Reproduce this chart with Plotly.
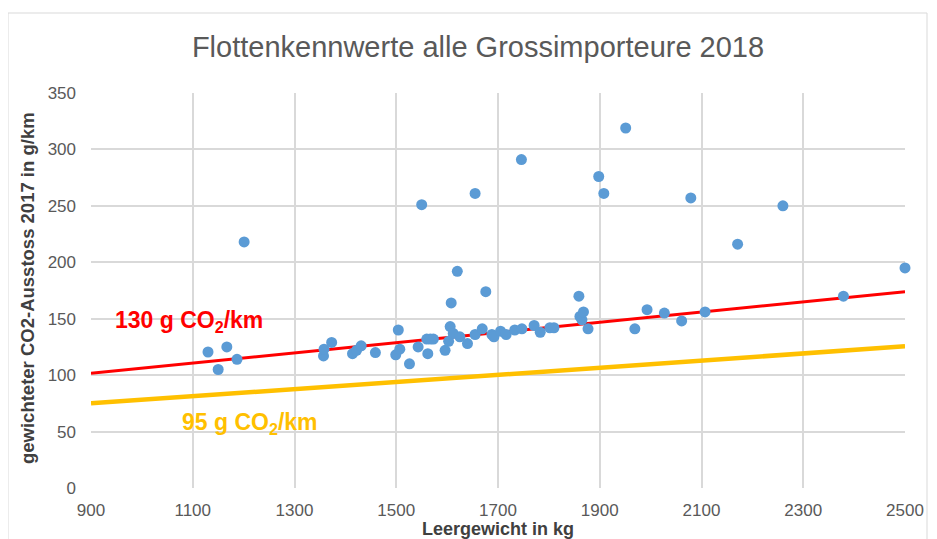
import plotly.graph_objects as go

# Scatter data: Leergewicht (kg) vs gewichteter CO2-Ausstoss (g/km)
weight_kg = [1130, 1150, 1167, 1187, 1201, 1357, 1358, 1373, 1414, 1422, 1431, 1459,
             1499, 1504, 1507, 1526, 1543, 1550, 1560, 1562, 1567, 1573, 1596, 1603,
             1606, 1608, 1612, 1620, 1625, 1640, 1655, 1655, 1669, 1676, 1688, 1692,
             1705, 1716, 1733, 1746, 1747, 1771, 1783, 1802, 1810, 1859, 1861, 1865,
             1868, 1877, 1898, 1908, 1951, 1969, 1993, 2027, 2061, 2079, 2107, 2171,
             2260, 2379, 2500]
co2_gkm = [120.5, 105, 125, 114, 218, 117, 123, 129, 119, 122, 126, 120,
           118, 140, 123, 110, 125, 251, 132, 119, 132, 132, 122, 130,
           143, 164, 137, 192, 134, 128, 261, 136, 141, 174, 136, 134,
           139, 136, 140, 291, 141, 144, 138, 142, 142, 170, 152, 149,
           156, 141, 276, 261, 319, 141, 158, 155, 148, 257, 156, 216,
           250, 170, 195]

# Target lines (endpoints)
line_x = [900, 2500]
target130_y = [101.6, 174.0]
target95_y = [75.0, 125.5]

x_ticks = [900, 1100, 1300, 1500, 1700, 1900, 2100, 2300, 2500]
y_ticks = [0, 50, 100, 150, 200, 250, 300, 350]

OFF = 8  # page body margin
W, H = 937 - OFF, 539 - OFF
L, T = 91 - OFF, 93 - OFF
pw, ph = 814, 395
R, B = W - L - pw, H - T - ph

def px_x(p):  # page px -> paper x
    return (p - OFF - L) / pw

def px_y(p):  # page px -> paper y
    return (T + ph - (p - OFF)) / ph

fig = go.Figure()
fig.add_trace(go.Scatter(x=line_x, y=target95_y, mode="lines",
                         line=dict(color="#FFC000", width=4.5), hoverinfo="skip",
                         showlegend=False))
fig.add_trace(go.Scatter(x=line_x, y=target130_y, mode="lines",
                         line=dict(color="#FF0000", width=3), hoverinfo="skip",
                         showlegend=False))
fig.add_trace(go.Scatter(x=weight_kg, y=co2_gkm, mode="markers",
                         marker=dict(color="#5B9BD5", size=11, line=dict(width=0)),
                         cliponaxis=False, showlegend=False))

narrow = "Liberation Sans Narrow, Arial Narrow, Arial, sans-serif"
bold_font = "Liberation Sans, Arial, sans-serif"

fig.update_layout(
    width=W, height=H,
    margin=dict(l=L, r=R, t=T, b=B, autoexpand=False),
    paper_bgcolor="white", plot_bgcolor="white",
    title=dict(text="Flottenkennwerte alle Grossimporteure 2018",
               x=(478 - OFF) / W, xanchor="center", y=1 - (47 - OFF) / H, yanchor="middle",
               yref="container", xref="container",
               font=dict(family=narrow, size=29, color="#595959")),
    xaxis=dict(range=[900, 2500], tickvals=x_ticks, ticktext=[str(v) for v in x_ticks],
               showgrid=True, gridcolor="#D9D9D9", gridwidth=1.5, zeroline=False,
               showline=False, ticks="", ticklabelstandoff=10, automargin=False,
               tickfont=dict(family=narrow, size=17, color="#595959")),
    yaxis=dict(range=[0, 350], tickvals=y_ticks, ticktext=[str(v) for v in y_ticks],
               showgrid=True, gridcolor="#D9D9D9", gridwidth=1.5, zeroline=False,
               showline=False, ticks="", ticklabelstandoff=14, automargin=False,
               tickfont=dict(family=narrow, size=17, color="#595959")),
    font=dict(family=narrow),
)

annotations = [
    dict(text="<b>Leergewicht in kg</b>", xref="paper", yref="paper",
         x=px_x(498), y=px_y(529), xanchor="center", yanchor="middle", showarrow=False,
         font=dict(family=narrow, size=18, color="#404040")),
    dict(text="<b>gewichteter CO2-Ausstoss 2017 in g/km</b>", xref="paper", yref="paper",
         x=px_x(27), y=px_y(288), xanchor="center", yanchor="middle", showarrow=False,
         textangle=-90, font=dict(family=bold_font, size=18.5, color="#404040")),
    dict(text="<b>130 g CO<sub>2</sub>/km</b>", xref="paper", yref="paper",
         x=px_x(113), y=px_y(321), xanchor="left", yanchor="middle", showarrow=False,
         font=dict(family=bold_font, size=23, color="#FF0000")),
    dict(text="<b>95 g CO<sub>2</sub>/km</b>", xref="paper", yref="paper",
         x=px_x(180), y=px_y(423), xanchor="left", yanchor="middle", showarrow=False,
         font=dict(family=bold_font, size=23, color="#FFC000")),
]
fig.update_layout(annotations=annotations)

fig.add_shape(type="rect", xref="paper", yref="paper",
              x0=px_x(8), x1=px_x(927), y0=px_y(560), y1=px_y(13),
              line=dict(color="#D9D9D9", width=1), fillcolor="rgba(0,0,0,0)", layer="below")

fig.write_html("out.html")
